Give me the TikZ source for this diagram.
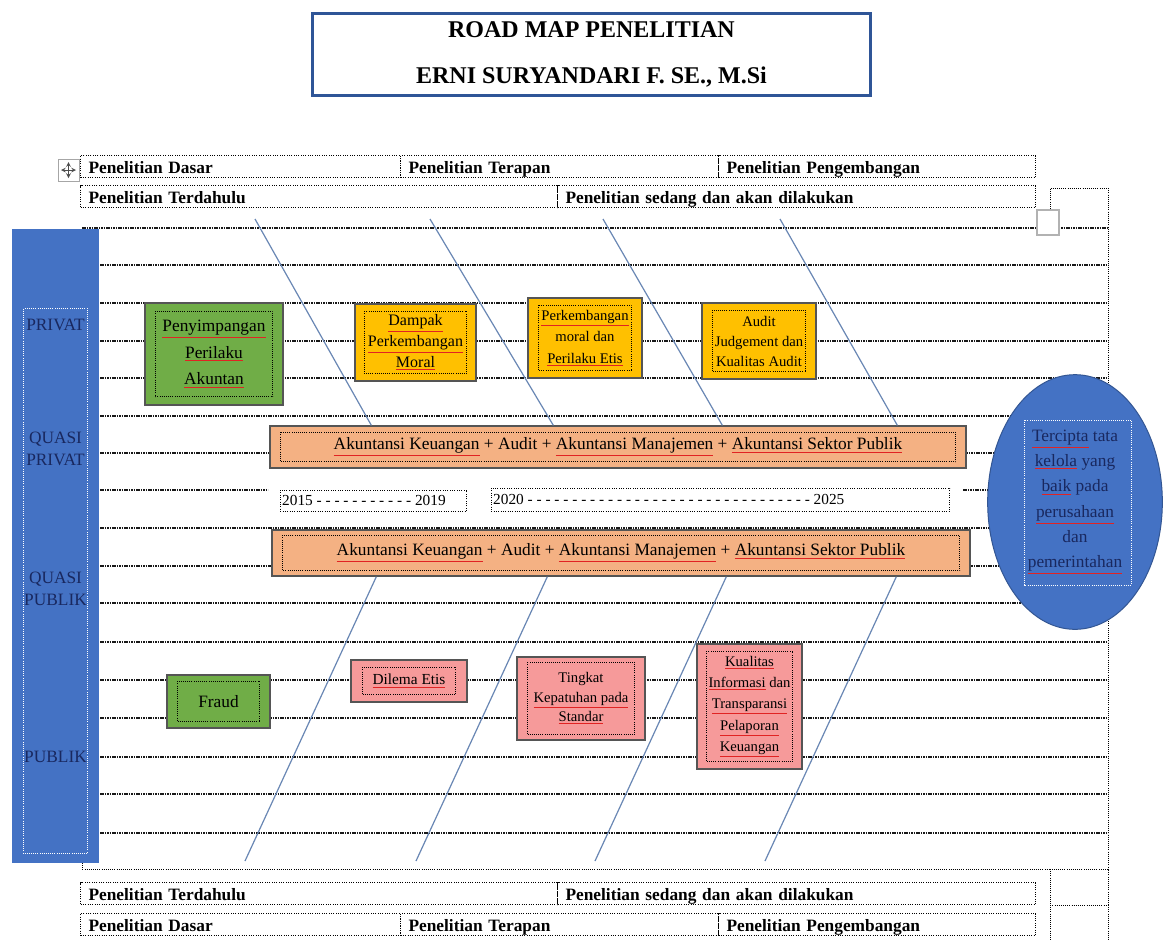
\documentclass[tikz,border=0pt]{standalone}
\usepackage{fontspec}
\setmainfont{Liberation Serif}
\usepackage{tikz}
\usetikzlibrary{calc,shapes.geometric}
\definecolor{titleblue}{RGB}{47,85,151}
\definecolor{barblue}{RGB}{68,114,196}
\definecolor{navytext}{RGB}{25,40,95}
\definecolor{leafgreen}{RGB}{112,173,71}
\definecolor{amber}{RGB}{255,192,0}
\definecolor{peach}{RGB}{244,177,131}
\definecolor{rosepink}{RGB}{246,154,154}
\definecolor{diagblue}{RGB}{105,135,180}
\definecolor{splred}{RGB}{225,35,35}
\definecolor{edgegray}{RGB}{85,85,85}
\newcommand{\spl}[1]{\colorlet{spltx}{.}\textcolor{splred}{\underline{\textcolor{spltx}{#1}}}}
\tikzset{every picture/.style={line width=0.75pt}}
\tikzset{
  gridln/.style={color=black!90, line width=2pt, dash pattern=on 1.2pt off 0.6pt},
  dotfrm/.style={densely dotted, line width=0.6pt},
  diag/.style={color=diagblue, line width=0.9pt},
  cell/.style={draw, densely dotted, anchor=north west, text height=13.5pt, text depth=3pt, inner xsep=6pt, inner ysep=0pt, align=left, font=\fontsize{13}{15}\selectfont\bfseries},
  cardbox/.style={draw=edgegray, line width=1pt, inner sep=0pt, align=center},
  barlbl/.style={text=navytext, inner sep=0pt, align=center, font=\fontsize{13}{16.5}\selectfont},
  yearbox/.style={draw, densely dotted, fill=white, inner xsep=1.5pt, inner ysep=0pt, align=justify, font=\fontsize{11.5}{13}\selectfont},
  goal/.style={ellipse, fill=barblue, draw=barblue!75!black, minimum width=131pt, minimum height=191pt, inner sep=0pt, align=center, text=navytext, font=\fontsize{13}{19}\selectfont}
}

\begin{document}
\begin{tikzpicture}[x=0.75pt,y=0.75pt,yscale=-1,xscale=1]
\useasboundingbox (0,0) rectangle (1164,940);
\fill[white] (0,0) rectangle (1164,940);

%Title
\node[draw=titleblue, line width=2.25pt, minimum width=418.5pt, minimum height=61.5pt, inner sep=0pt, align=center, font=\fontsize{18}{35}\selectfont\bfseries] (title) at (591.5,54.5) {ROAD MAP PENELITIAN\\ERNI SURYANDARI F. SE., M.Si};

%Table grid lines
\foreach \y in {265,303,341,378,416,453,528,566,603,642,680,718,757,794,833}
  \draw[gridln] (100,\y) -- (1108,\y);
\draw[gridln] (82,228) -- (1108,228);
\draw[gridln] (100,490) -- (268,490);
\draw[gridln] (963,490) -- (1108,490);
%Table borders, right and bottom
\draw[dotfrm] (1050,228) -- (1050,188) -- (1108,188) -- (1108,869);
\draw[dotfrm] (82,863) -- (82,869) -- (1050,869);
\draw[dotfrm] (1050,869) rectangle (1108,905);
\draw[dotfrm] (1050,905) -- (1050,940) (1108,905) -- (1108,940);

%Move handle
\draw[color=gray!70, fill=white] (58,159) rectangle (79,181);
\draw[color=black!70, line width=0.6pt, <->, >=stealth] (61,170) -- (76,170);
\draw[color=black!70, line width=0.6pt, <->, >=stealth] (68.5,162) -- (68.5,178);
%Gray square
\draw[color=gray!60, fill=white, line width=1pt] (1037,210) rectangle (1059,235);

%Header cells
\node[cell, text width=228pt] (hdDasar) at (80,155) {Penelitian Dasar};
\node[cell, text width=226.5pt] (hdTerapan) at (400,155) {Penelitian Terapan};
\node[cell, text width=225.75pt] (hdKembang) at (718,155) {Penelitian Pengembangan};
\node[cell, text width=345.75pt] (hdDahulu) at (80,185) {Penelitian Terdahulu};
\node[cell, text width=346.5pt] (hdSedang) at (557,185) {Penelitian sedang dan akan dilakukan};
%Footer cells
\node[cell, text width=345.75pt] (ftDahulu) at (80,882) {Penelitian Terdahulu};
\node[cell, text width=346.5pt] (ftSedang) at (557,882) {Penelitian sedang dan akan dilakukan};
\node[cell, text width=228pt] (ftDasar) at (80,913) {Penelitian Dasar};
\node[cell, text width=226.5pt] (ftTerapan) at (400,913) {Penelitian Terapan};
\node[cell, text width=225.75pt] (ftKembang) at (718,913) {Penelitian Pengembangan};

%Sector bar
\node[fill=barblue, minimum width=65.25pt, minimum height=475.5pt, inner sep=0pt] (bar) at (55.5,546) {};
\draw[dotfrm, color=white] ($(bar.north west)+(12,80)$) rectangle ($(bar.south east)-(12,10)$);
\node[barlbl] (lbPrivat) at (55.5,325) {PRIVAT};
\node[barlbl] (lbQPrivat) at (55.5,449) {QUASI\\PRIVAT};
\node[barlbl] (lbQPublik) at (55.5,589) {QUASI\\PUBLIK};
\node[barlbl] (lbPublik) at (55.5,757) {PUBLIK};

%Topics, privat
\node[cardbox, fill=leafgreen, minimum width=103.5pt, minimum height=76.5pt, font=\fontsize{13}{20}\selectfont] (pkA) at (214,354) {\spl{Penyimpangan}\\\spl{Perilaku}\\\spl{Akuntan}};
\node[cardbox, fill=amber, minimum width=90.75pt, minimum height=57.75pt, font=\fontsize{12}{15.5}\selectfont] (dampak) at (415.5,342.5) {\spl{Dampak}\\\spl{Perkembangan}\\\spl{Moral}};
\node[cardbox, fill=amber, minimum width=85.5pt, minimum height=60pt, font=\fontsize{11}{16}\selectfont] (moral) at (585,338) {\spl{Perkembangan}\\moral dan\\\spl{Perilaku Etis}};
\node[cardbox, fill=amber, minimum width=85.5pt, minimum height=57pt, font=\fontsize{11}{15}\selectfont] (audit) at (759,341) {Audit\\Judgement dan\\Kualitas Audit};

%Fields
\node[cardbox, fill=peach, minimum width=522pt, minimum height=31.5pt, font=\fontsize{13}{15}\selectfont] (akt1) at (618,447) {\spl{Akuntansi Keuangan} + Audit + \spl{Akuntansi Manajemen} + \spl{Akuntansi Sektor Publik}};
\node[cardbox, fill=peach, minimum width=523.5pt, minimum height=34.5pt, font=\fontsize{13}{15}\selectfont] (akt2) at (621,553) {\spl{Akuntansi Keuangan} + Audit + \spl{Akuntansi Manajemen} + \spl{Akuntansi Sektor Publik}};

%Years
\node[yearbox, text width=137pt, minimum height=15.75pt] (yrA) at (373.5,500.5) {\parfillskip=0pt 2015 - - - - - - - - - - - 2019};
\node[yearbox, text width=341pt, minimum height=17.25pt] (yrB) at (720.5,499.5) {\parfillskip=0pt 2020 - - - - - - - - - - - - - - - - - - - - - - - - - - - - - - - - 2025};

%Topics, publik
\node[cardbox, fill=leafgreen, minimum width=77.25pt, minimum height=39.75pt, font=\fontsize{13}{15}\selectfont] (fraud) at (218.5,701.5) {Fraud};
\node[cardbox, fill=rosepink, minimum width=87pt, minimum height=31.5pt, font=\fontsize{11.5}{14}\selectfont] (dilema) at (409,681) {\spl{Dilema Etis}};
\node[cardbox, fill=rosepink, minimum width=96pt, minimum height=62.25pt, font=\fontsize{11}{14.6}\selectfont] (tingkat) at (581,698.5) {Tingkat\\\spl{Kepatuhan pada}\\\spl{Standar}};
\node[cardbox, fill=rosepink, minimum width=78.75pt, minimum height=93.75pt, font=\fontsize{11}{16}\selectfont] (kualitas) at (749.5,706.5) {\spl{Kualitas}\\\spl{Informasi} dan\\\spl{Transparansi}\\\spl{Pelaporan}\\\spl{Keuangan}};

%Goal
\node[goal] (goal) at (1075,502) {\spl{Tercipta} tata\\\spl{kelola} yang\\\spl{baik} pada\\\spl{perusahaan}\\dan\\\spl{pemerintahan}};
\draw[dotfrm, color=white] ($(goal.center)+(-51,-82)$) rectangle ($(goal.center)+(56,83)$);

%Inner frames
\foreach \n/\dx/\dy in {pkA/11/9, dampak/10/8, moral/11/8, audit/11/8, akt1/11/7, akt2/11/6, fraud/11/7, dilema/12/8, tingkat/11/6, kualitas/10/8}
  \draw[dotfrm] ($(\n.north west)+(\dx,\dy)$) rectangle ($(\n.south east)-(\dx,\dy)$);

%Straight Lines
\foreach \x [count=\i] in {255,430,603,780}
  \coordinate (t\i) at (\x,219);
\foreach \x [count=\i] in {245,416,595,765}
  \coordinate (b\i) at (\x,861);
\foreach \i/\dx in {1/102,2/284,3/453,4/628}
  \draw[diag] (t\i) -- ($(akt1.north west)+(\dx,0)$);
\foreach \i/\dx in {1/105,2/276,3/455,4/625}
  \draw[diag] ($(akt2.south west)+(\dx,0)$) -- (b\i);
\end{tikzpicture}
\end{document}
